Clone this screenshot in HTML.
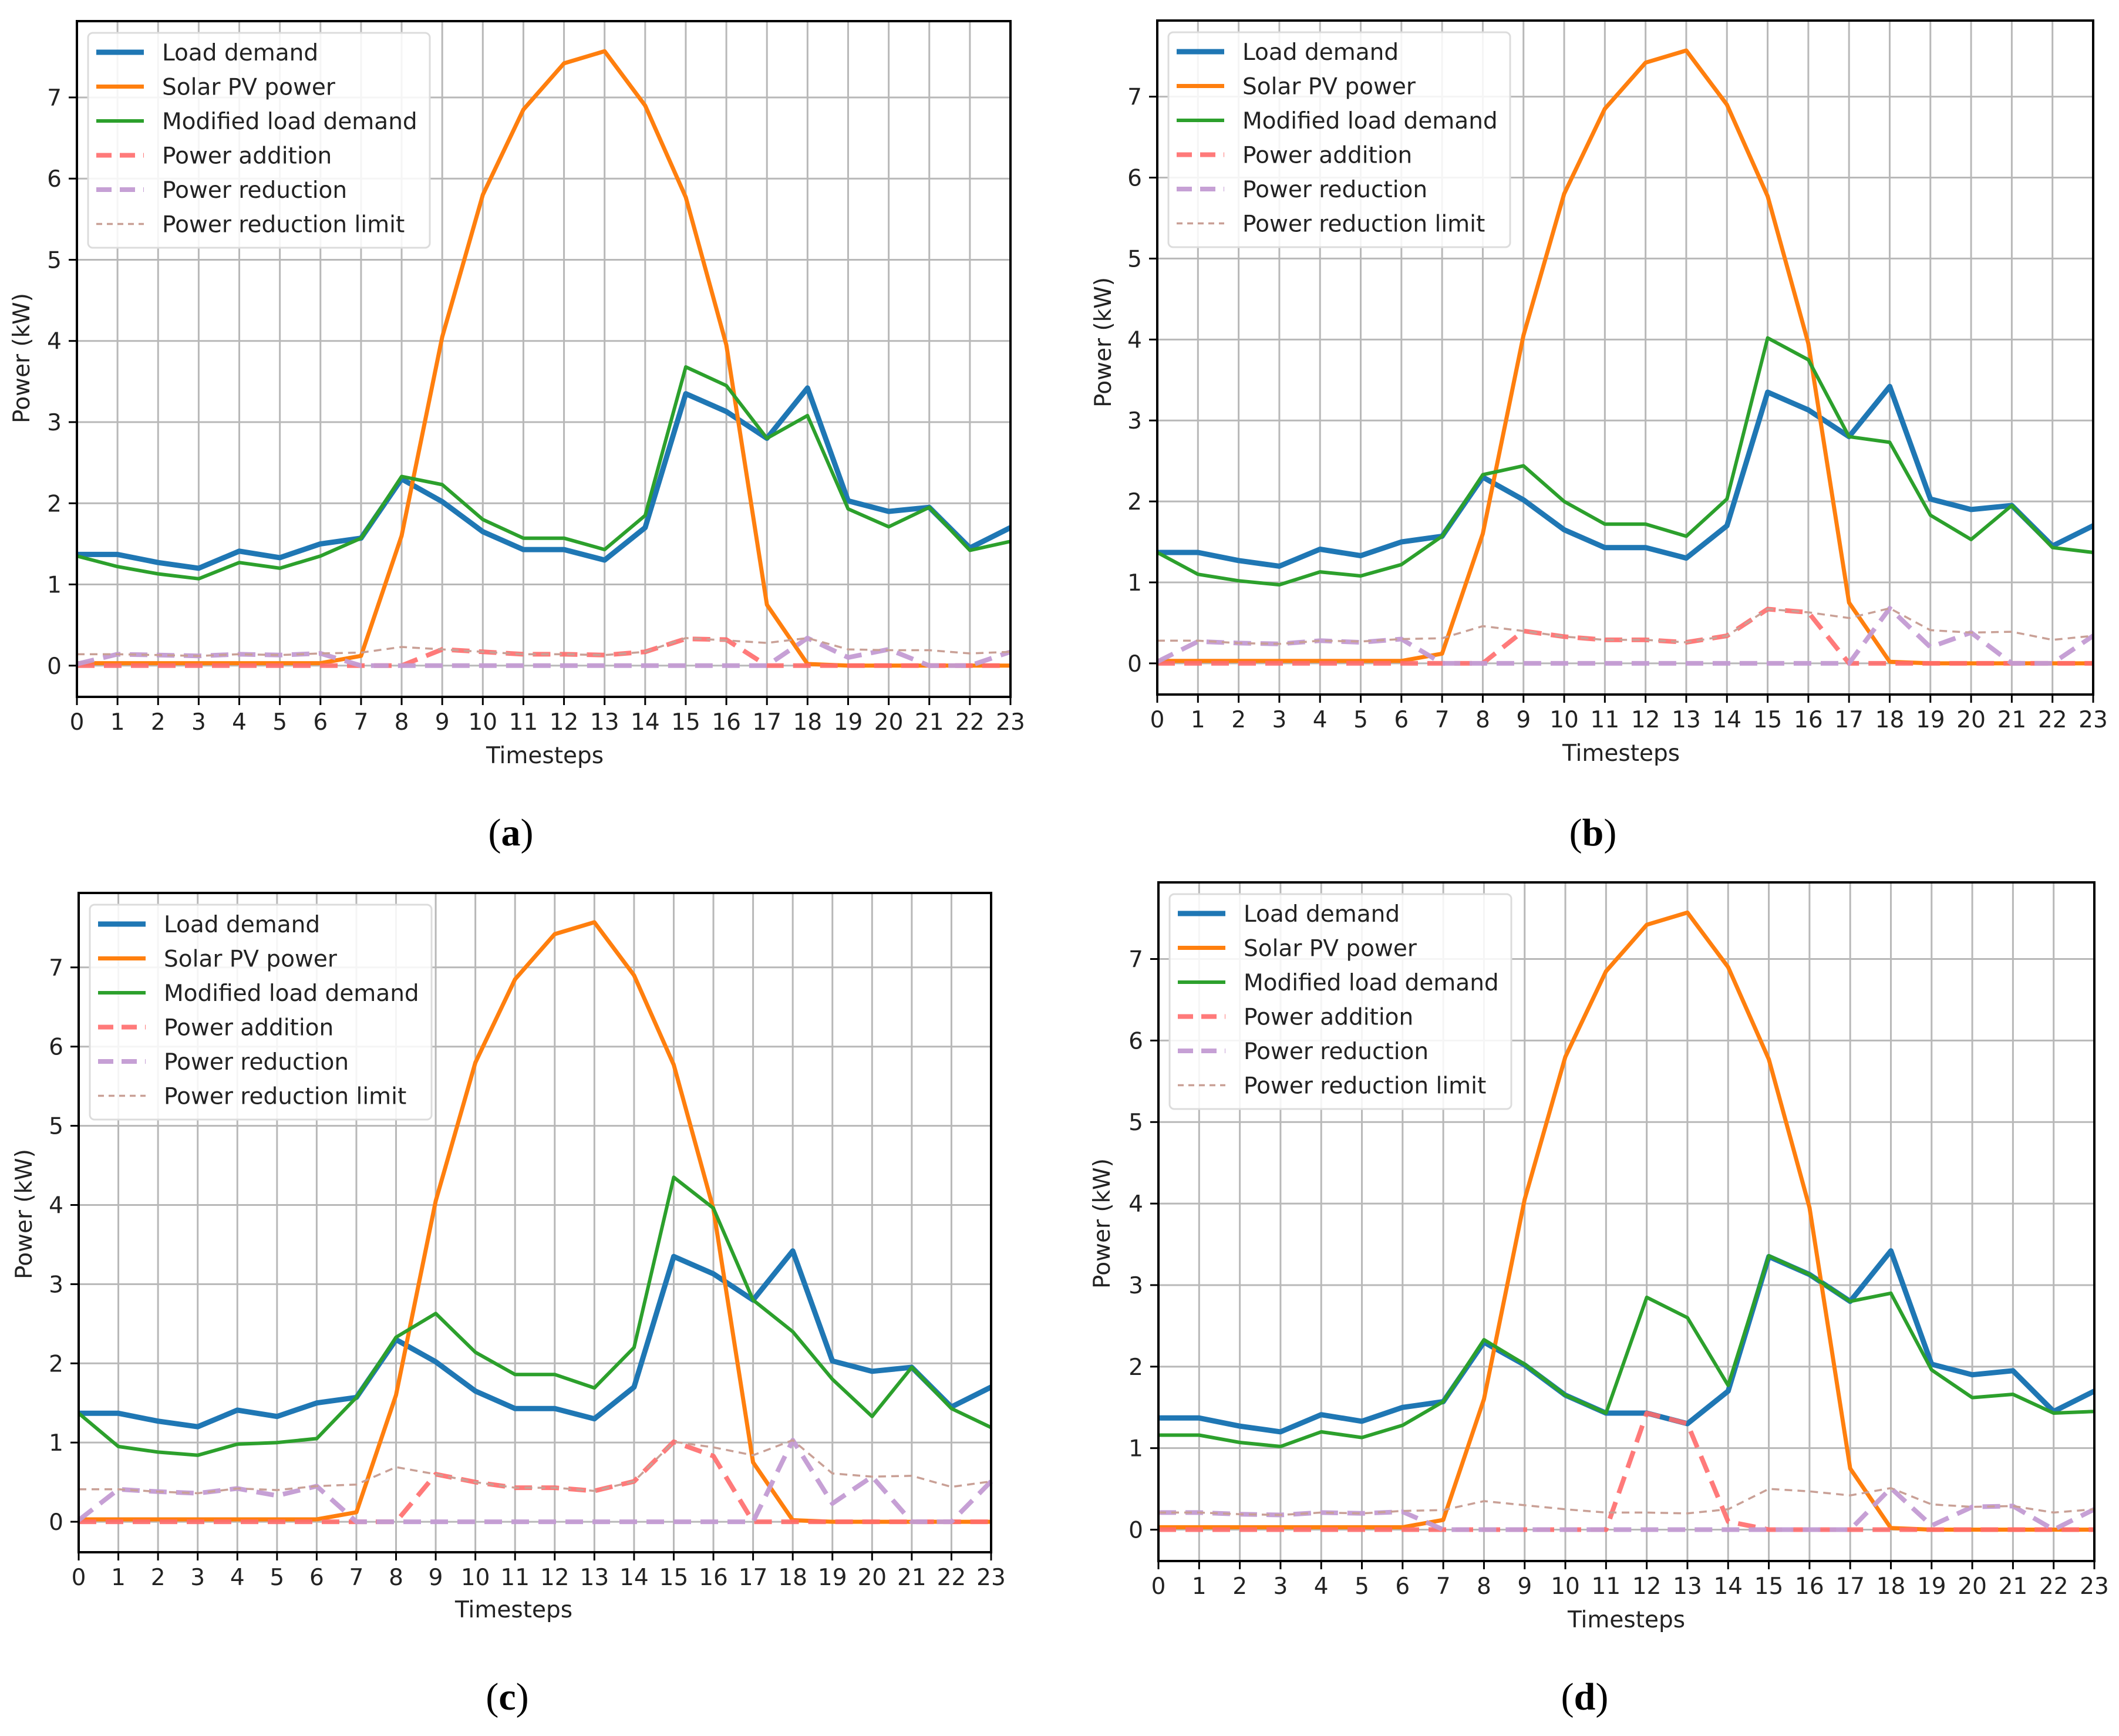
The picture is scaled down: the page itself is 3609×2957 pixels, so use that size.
<!DOCTYPE html>
<html><head><meta charset="utf-8">
<style>
html,body{margin:0;padding:0;background:#fff;}
svg{display:block;font-family:"DejaVu Sans","Liberation Sans",sans-serif;}
</style></head>
<body>
<svg id="fig" width="3609" height="2957" viewBox="0 0 3609 2957" xmlns="http://www.w3.org/2000/svg"></svg>
<script>
const timesteps = [0,1,2,3,4,5,6,7,8,9,10,11,12,13,14,15,16,17,18,19,20,21,22,23];
const yTicks = [0,1,2,3,4,5,6,7];
const loadDemand = [1.37,1.37,1.27,1.2,1.41,1.33,1.5,1.57,2.3,2.02,1.65,1.43,1.43,1.3,1.7,3.35,3.13,2.8,3.42,2.03,1.9,1.95,1.45,1.7];
const solarPV = [0.03,0.03,0.03,0.03,0.03,0.03,0.03,0.12,1.6,4.05,5.8,6.85,7.42,7.57,6.9,5.77,3.95,0.75,0.02,0,0,0,0,0];

const modA = [1.35,1.22,1.13,1.07,1.27,1.2,1.35,1.57,2.33,2.23,1.8,1.57,1.57,1.43,1.85,3.68,3.45,2.8,3.08,1.93,1.71,1.95,1.42,1.53];
const addA = [0,0,0,0,0,0,0,0,0,0.2,0.17,0.14,0.14,0.13,0.17,0.33,0.32,0,0,0,0,0,0,0];
const redA = [0.02,0.14,0.13,0.12,0.14,0.13,0.15,0,0,0,0,0,0,0,0,0,0,0,0.34,0.1,0.2,0,0,0.17];
const limA = [0.14,0.14,0.13,0.12,0.14,0.13,0.15,0.16,0.23,0.2,0.17,0.14,0.14,0.13,0.17,0.34,0.31,0.28,0.34,0.2,0.19,0.19,0.15,0.17];

const modB = [1.37,1.1,1.02,0.97,1.13,1.08,1.22,1.57,2.33,2.44,2.0,1.72,1.72,1.57,2.03,4.02,3.75,2.8,2.73,1.83,1.53,1.95,1.43,1.37];
const addB = [0,0,0,0,0,0,0,0,0,0.4,0.33,0.29,0.29,0.26,0.34,0.67,0.63,0,0,0,0,0,0,0];
const redB = [0.02,0.27,0.25,0.24,0.28,0.26,0.3,0,0,0,0,0,0,0,0,0,0,0,0.68,0.2,0.38,0,0,0.34];
const limB = [0.28,0.28,0.25,0.24,0.28,0.27,0.3,0.31,0.46,0.4,0.33,0.29,0.29,0.26,0.34,0.67,0.63,0.56,0.68,0.41,0.38,0.39,0.29,0.34];

const modC = [1.37,0.95,0.88,0.84,0.98,1.0,1.05,1.57,2.33,2.63,2.14,1.86,1.86,1.69,2.2,4.35,3.96,2.8,2.4,1.8,1.33,1.95,1.43,1.19];
const addC = [0,0,0,0,0,0,0,0,0,0.6,0.5,0.43,0.43,0.39,0.51,1.01,0.83,0,0,0,0,0,0,0];
const redC = [0.02,0.41,0.38,0.36,0.42,0.33,0.45,0,0,0,0,0,0,0,0,0,0,0,1.03,0.23,0.57,0,0,0.51];
const limC = [0.41,0.41,0.38,0.36,0.42,0.4,0.45,0.47,0.69,0.6,0.5,0.43,0.43,0.39,0.51,1.01,0.94,0.84,1.03,0.61,0.57,0.58,0.44,0.51];

const modD = [1.16,1.16,1.07,1.02,1.2,1.13,1.28,1.57,2.33,2.03,1.65,1.43,2.85,2.6,1.77,3.36,3.13,2.8,2.9,1.96,1.62,1.66,1.43,1.45];
const addD = [0,0,0,0,0,0,0,0,0,0,0,0,1.43,1.3,0.1,0,0,0,0,0,0,0,0,0];
const redD = [0.21,0.21,0.19,0.18,0.21,0.2,0.22,0,0,0,0,0,0,0,0,0,0,0,0.51,0.05,0.28,0.29,0,0.25];
const limD = [0.21,0.21,0.19,0.18,0.21,0.2,0.23,0.24,0.35,0.3,0.25,0.21,0.21,0.2,0.25,0.5,0.47,0.42,0.51,0.31,0.28,0.29,0.21,0.25];

const legendLabels = ["Load demand","Solar PV power","Modified load demand","Power addition","Power reduction","Power reduction limit"];
const panelLetters = ["a","b","c","d"];

const YMIN = -0.385, YMAX = 7.94;
const NS = "http://www.w3.org/2000/svg";
const svg = document.getElementById("fig");
function mk(tag, attrs, parent){ const e=document.createElementNS(NS,tag); for(const k in attrs) e.setAttribute(k,attrs[k]); (parent||svg).appendChild(e); return e; }

const styles = [
 {stroke:"#1f77b4", w:9, dash:null},
 {stroke:"#ff7f0e", w:7, dash:null},
 {stroke:"#2ca02c", w:6, dash:null},
 {stroke:"#ff6b6b", w:8, dash:"30 16", op:0.9},
 {stroke:"#c39bd3", w:8, dash:"30 16", op:0.95},
 {stroke:"#c9a096", w:3.5, dash:"13 9"}
];

const panels = [
 {L:131,R:1721,T:36,B:1187, series:[loadDemand,solarPV,modA,addA,redA,limA], cap:[870,1440], xl:[928,1300], yl:[37,610]},
 {L:1971,R:3565,T:35,B:1183, series:[loadDemand,solarPV,modB,addB,redB,limB], cap:[2713,1440], xl:[2761,1296], yl:[1879,583]},
 {L:134,R:1688,T:1521,B:2644, series:[loadDemand,solarPV,modC,addC,redC,limC], cap:[864,2912], xl:[875,2755], yl:[41,2068]},
 {L:1973,R:3567,T:1503,B:2659, series:[loadDemand,solarPV,modD,addD,redD,limD], cap:[2699,2912], xl:[2770,2772], yl:[1877,2084]}
];

panels.forEach((p,pi)=>{
  const g = mk("g",{});
  
  
  const xs = i => p.L + (p.R-p.L)*i/23;
  const ys = v => p.B - (p.B-p.T)*(v-YMIN)/(YMAX-YMIN);
  timesteps.forEach(t=>{
    const l=mk("line",{x1:xs(t),x2:xs(t),y1:p.T,y2:p.B,stroke:"#b8b8b8","stroke-width":3},g);
     
  });
  yTicks.forEach(v=>{
    const l=mk("line",{x1:p.L,x2:p.R,y1:ys(v),y2:ys(v),stroke:"#b8b8b8","stroke-width":3},g);
     
  });
  p.series.forEach((d,si)=>{
    const s=styles[si];
    const pts=d.map((v,i)=>xs(timesteps[i]).toFixed(1)+","+ys(v).toFixed(1)).join(" ");
    const a={points:pts,fill:"none",stroke:s.stroke,"stroke-width":s.w,"stroke-linejoin":"round"};
    if(s.dash) a["stroke-dasharray"]=s.dash;
    if(s.op) a["stroke-opacity"]=s.op;
    const pl=mk("polyline",a,g);
    
    
  });
  const fr=mk("rect",{x:p.L,y:p.T,width:p.R-p.L,height:p.B-p.T,fill:"none",stroke:"#000","stroke-width":4},g);
   
  timesteps.forEach(t=>{
    mk("line",{x1:xs(t),x2:xs(t),y1:p.B,y2:p.B+14,stroke:"#000","stroke-width":3},g);
    const tx=mk("text",{x:xs(t),y:p.B+56,"font-size":39,"text-anchor":"middle",fill:"#222"},g);
    tx.textContent=t;
     
  });
  yTicks.forEach(v=>{
    mk("line",{x1:p.L-14,x2:p.L,y1:ys(v),y2:ys(v),stroke:"#000","stroke-width":3},g);
    const tx=mk("text",{x:p.L-26,y:ys(v)+14,"font-size":39,"text-anchor":"end",fill:"#222"},g);
    tx.textContent=v;
     
  });
  const xt=mk("text",{x:p.xl[0],y:p.xl[1],"font-size":39,"text-anchor":"middle",fill:"#222"},g);
  xt.textContent="Timesteps";
   
  const yt=mk("text",{x:0,y:0,"font-size":39,"text-anchor":"middle",fill:"#222",transform:`translate(${p.yl[0]+13},${p.yl[1]}) rotate(-90)`},g);
  yt.textContent="Power (kW)";
   
  const lg=mk("g",{},g);
   
  const lx=p.L+19, ly=p.T+20;
  mk("rect",{x:lx,y:ly,width:582,height:366,rx:8,fill:"#fff","fill-opacity":0.85,stroke:"#dcdcdc","stroke-width":3},lg);
  legendLabels.forEach((lab,i)=>{
    const s=styles[i]; const yy=ly+33+i*58.5;
    const a={x1:lx+14,x2:lx+95,y1:yy,y2:yy,stroke:s.stroke,"stroke-width":s.w};
    if(s.dash) a["stroke-dasharray"]=s.dash==="13 9"?"10 8":"26 14";
    if(s.op) a["stroke-opacity"]=s.op;
    mk("line",a,lg);
    const tx=mk("text",{x:lx+126,y:yy+14,"font-size":39,fill:"#222"},lg);
    tx.textContent=lab;
     
  });
  const cap=mk("text",{x:p.cap[0],y:p.cap[1],"font-size":66,"text-anchor":"middle",fill:"#000","font-family":"Liberation Serif, serif"},g);
  cap.innerHTML='(<tspan font-weight="bold">'+panelLetters[pi]+'</tspan>)';
   
});
</script>
</body></html>
